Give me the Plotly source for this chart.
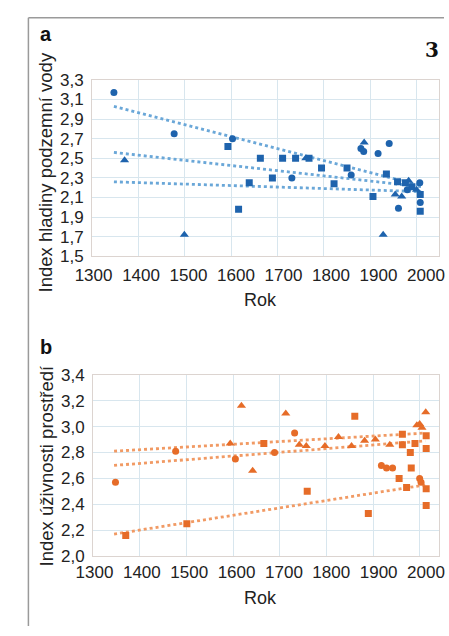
import plotly.graph_objects as go

# ---------------- Panel a: Index hladiny podzemní vody ----------------
a_circle_years = [1347, 1477, 1603, 1731, 1859, 1880, 1886, 1917, 1941, 1961, 1980, 2007, 2008]
a_circle_vals = [3.17, 2.75, 2.70, 2.30, 2.33, 2.60, 2.57, 2.55, 2.65, 1.99, 2.18, 2.25, 2.05]
a_square_years = [1593, 1616, 1639, 1663, 1689, 1711, 1739, 1768, 1795, 1822, 1850, 1906, 1935, 1959, 1976, 1990, 2008, 2008]
a_square_vals = [2.62, 1.98, 2.25, 2.50, 2.30, 2.50, 2.50, 2.50, 2.40, 2.24, 2.40, 2.11, 2.34, 2.26, 2.25, 2.21, 1.96, 2.13]
a_tri_years = [1370, 1499, 1761, 1887, 1928, 1954, 1968, 1983, 2000]
a_tri_vals = [2.48, 1.72, 2.50, 2.66, 1.72, 2.13, 2.11, 2.27, 2.18]
a_trend_years = [1347, 2010]
a_trend_top = [3.03, 2.22]
a_trend_mid = [2.56, 2.21]
a_trend_low = [2.26, 2.16]

# ---------------- Panel b: Index úživnosti prostředí ----------------
b_circle_years = [1348, 1477, 1605, 1689, 1732, 1918, 1929, 1942, 2000, 2003]
b_circle_vals = [2.57, 2.81, 2.75, 2.80, 2.95, 2.70, 2.68, 2.68, 2.60, 2.57]
b_square_years = [1370, 1501, 1666, 1759, 1861, 1890, 1956, 1963, 1963, 1972, 1980, 1982, 1990, 2014, 2014, 2014, 2014]
b_square_vals = [2.16, 2.25, 2.87, 2.50, 3.08, 2.33, 2.60, 2.94, 2.86, 2.53, 2.80, 2.68, 2.87, 2.93, 2.83, 2.52, 2.39]
b_tri_years = [1594, 1618, 1642, 1713, 1742, 1757, 1797, 1826, 1854, 1882, 1905, 1936, 1994, 2000, 2005, 2013]
b_tri_vals = [2.87, 3.16, 2.66, 3.10, 2.86, 2.85, 2.85, 2.92, 2.85, 2.89, 2.90, 2.86, 3.01, 3.02, 2.99, 3.11]
b_trend_years = [1345, 2012]
b_trend_top = [2.81, 2.95]
b_trend_mid = [2.70, 2.89]
b_trend_low = [2.17, 2.55]

x_ticks = [1300, 1400, 1500, 1600, 1700, 1800, 1900, 2000]
a_yticks = [1.5, 1.7, 1.9, 2.1, 2.3, 2.5, 2.7, 2.9, 3.1, 3.3]
b_yticks = [2.0, 2.2, 2.4, 2.6, 2.8, 3.0, 3.2, 3.4]

BLUE = "#1e63ad"
BLUE_T = "#6aa7d8"
ORANGE = "#e66c28"
ORANGE_T = "#f19a64"

W, H = 449, 636
FONT = "Liberation Sans, Arial, sans-serif"

fig = go.Figure()


def add_points(xs, ys, symbol, color, size, xa, ya):
    fig.add_trace(go.Scatter(x=xs, y=ys, mode="markers", xaxis=xa, yaxis=ya,
                             marker=dict(symbol=symbol, color=color, size=size,
                                         line=dict(width=0)),
                             showlegend=False, hoverinfo="x+y"))


def add_trend(xs, ys, color, xa, ya):
    fig.add_trace(go.Scatter(x=xs, y=ys, mode="lines", xaxis=xa, yaxis=ya,
                             line=dict(color=color, width=2.8, dash="dot"),
                             showlegend=False, hoverinfo="skip"))


for t in (a_trend_top, a_trend_mid, a_trend_low):
    add_trend(a_trend_years, t, BLUE_T, "x", "y")
add_points(a_circle_years, a_circle_vals, "circle", BLUE, 7, "x", "y")
add_points(a_square_years, a_square_vals, "square", BLUE, 7, "x", "y")
add_points(a_tri_years, a_tri_vals, "triangle-up", BLUE, 8, "x", "y")

for t in (b_trend_top, b_trend_mid, b_trend_low):
    add_trend(b_trend_years, t, ORANGE_T, "x2", "y2")
add_points(b_circle_years, b_circle_vals, "circle", ORANGE, 7, "x2", "y2")
add_points(b_square_years, b_square_vals, "square", ORANGE, 7, "x2", "y2")
add_points(b_tri_years, b_tri_vals, "triangle-up", ORANGE, 8, "x2", "y2")

# invisible helper traces so the label-only axes are drawn
fig.add_trace(go.Scatter(x=[x_ticks[0]], y=[a_yticks[0]], xaxis="x3", yaxis="y", mode="markers",
                         marker=dict(opacity=0), showlegend=False, hoverinfo="skip"))
fig.add_trace(go.Scatter(x=[x_ticks[0]], y=[b_yticks[0]], xaxis="x4", yaxis="y2", mode="markers",
                         marker=dict(opacity=0), showlegend=False, hoverinfo="skip"))


def px_x(p):
    return p / W


def px_y(p):
    return 1 - p / H


grid = "#d8e6ee"
border = "#dcd4d0"
tickfont = dict(family=FONT, size=17, color="#222")

xgrid = dict(tickvals=x_ticks, showticklabels=False,
             showgrid=True, gridcolor=grid, gridwidth=1, zeroline=False,
             showline=True, linecolor=border, mirror=True, ticks="", fixedrange=True)
xlabels = dict(range=[1297, 2028], tickvals=x_ticks, ticktext=[str(v) for v in x_ticks],
               showgrid=False, zeroline=False, showline=False, ticks="",
               tickfont=tickfont, fixedrange=True)

fig.update_layout(
    width=W, height=H,
    margin=dict(l=0, r=0, t=0, b=0),
    paper_bgcolor="white", plot_bgcolor="white",
    font=dict(family=FONT, color="#222"),
    xaxis=dict(domain=[px_x(79), px_x(444)], anchor="y", range=[1300, 2049], **xgrid),
    yaxis=dict(domain=[px_y(255), px_y(73)], anchor="x", range=[1.5, 3.3],
               tickvals=a_yticks, ticktext=[f"{v:.1f}".replace(".", ",") for v in a_yticks],
               showgrid=True, gridcolor=grid, zeroline=False, showline=True,
               linecolor=border, mirror=True, ticks="", tickfont=tickfont,
               ticklabelstandoff=4, fixedrange=True),
    xaxis3=dict(overlaying="x", anchor="y", side="bottom", ticklabelstandoff=7, **xlabels),
    xaxis2=dict(domain=[px_x(80), px_x(444)], anchor="y2", range=[1300, 2042], **xgrid),
    yaxis2=dict(domain=[px_y(564), px_y(377)], anchor="x2", range=[2.0, 3.4],
                tickvals=b_yticks, ticktext=[f"{v:.1f}".replace(".", ",") for v in b_yticks],
                showgrid=True, gridcolor=grid, zeroline=False, showline=True,
                linecolor=border, mirror=True, ticks="", tickfont=tickfont,
                ticklabelstandoff=4, fixedrange=True),
    xaxis4=dict(overlaying="x2", anchor="y2", side="bottom", ticklabelstandoff=4, **xlabels),
)

ann = []
# panel letters
ann.append(dict(text="<b>a</b>", x=px_x(22), y=px_y(26), xref="paper", yref="paper",
                xanchor="left", yanchor="middle", showarrow=False,
                font=dict(family=FONT, size=20, color="#111")))
ann.append(dict(text="<b>b</b>", x=px_x(22), y=px_y(348), xref="paper", yref="paper",
                xanchor="left", yanchor="middle", showarrow=False,
                font=dict(family=FONT, size=20, color="#111")))
ann.append(dict(text="<b>3</b>", x=px_x(436.5), y=px_y(42), xref="paper", yref="paper",
                xanchor="center", yanchor="middle", showarrow=False,
                font=dict(family="DejaVu Serif, Liberation Serif, serif", size=20, color="#111")))
# axis titles
ann.append(dict(text="Rok", x=px_x(256), y=px_y(300), xref="paper", yref="paper",
                xanchor="center", yanchor="middle", showarrow=False,
                font=dict(family=FONT, size=18, color="#222")))
ann.append(dict(text="Rok", x=px_x(256), y=px_y(607), xref="paper", yref="paper",
                xanchor="center", yanchor="middle", showarrow=False,
                font=dict(family=FONT, size=18, color="#222")))
ann.append(dict(text="Index hladiny podzemní vody", x=px_x(31), y=px_y(168), xref="paper",
                yref="paper", xanchor="center", yanchor="middle", showarrow=False,
                textangle=-90, font=dict(family=FONT, size=18.5, color="#222")))
ann.append(dict(text="Index úživnosti prostředí", x=px_x(31), y=px_y(471), xref="paper",
                yref="paper", xanchor="center", yanchor="middle", showarrow=False,
                textangle=-90, font=dict(family=FONT, size=18.5, color="#222")))
fig.update_layout(annotations=ann)

# outer frame (top and left edges)
fig.update_layout(shapes=[
    dict(type="line", xref="paper", yref="paper", x0=px_x(12), x1=1.0, y0=px_y(9), y1=px_y(9),
         line=dict(color="#9a9a9a", width=1.5)),
    dict(type="line", xref="paper", yref="paper", x0=px_x(12), x1=px_x(12), y0=px_y(9), y1=0,
         line=dict(color="#9a9a9a", width=1.5)),
])

fig.write_html("out.html", config={"displayModeBar": False},
               post_script="document.body.style.margin='0';document.body.style.overflow='hidden';")
